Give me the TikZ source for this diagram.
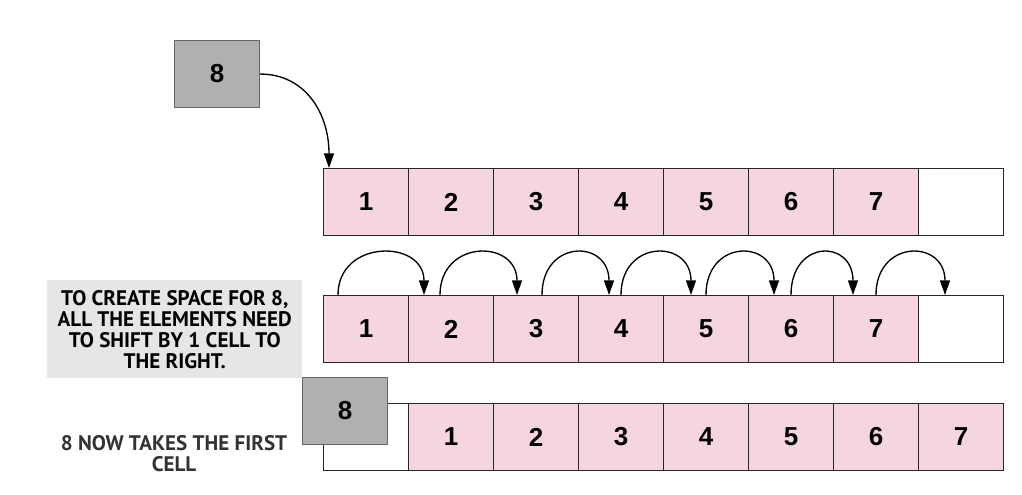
\documentclass[tikz,border=0pt]{standalone}
\usepackage{fontspec}
\setmainfont{Liberation Sans}
\newfontfamily\notefont{PT Sans}
\usetikzlibrary{arrows.meta,calc}
\definecolor{cellpink}{HTML}{F5D5E0}
\definecolor{boxgray}{HTML}{B0B0B0}
\definecolor{notegray}{HTML}{E6E6E6}
\tikzset{
  cell/.style={draw=black!85, line width=0.8pt, fill=cellpink, minimum width=63.75pt, minimum height=50.25pt, inner sep=0pt, anchor=north west, font=\fontsize{19.5}{19.5}\selectfont\bfseries},
  emptycell/.style={cell, fill=white},
  eightbox/.style={draw=black!60, line width=0.8pt, fill=boxgray, minimum width=63.75pt, minimum height=50.25pt, inner sep=0pt, anchor=north west, font=\fontsize{19.5}{19.5}\selectfont\bfseries},
  shiftarrow/.style={draw=black, line width=1pt, -{Triangle[length=11pt,width=7.5pt]}},
  notetext/.style={align=center, font=\notefont\bfseries\fontsize{15.8}{15.75}\selectfont}
}
\begin{document}
\begin{tikzpicture}[x=0.75pt,y=-0.75pt]
\useasboundingbox (0,0) rectangle (1022,494);
% top 8 box
\node[eightbox] (g1) at (174,40) {8};
% row 1
\foreach \i in {1,...,7} {
  \node[cell] (r1c\i) at ({323+85*(\i-1)},168) {\i};
}
\node[emptycell] (r1c8) at (918,168) {};
% row 2
\foreach \i in {1,...,7} {
  \node[cell] (r2c\i) at ({323+85*(\i-1)},295) {\i};
}
\node[emptycell] (r2c8) at (918,295) {};
% row 3
\node[emptycell] (r3c0) at (323,403) {};
\foreach \i in {1,...,7} {
  \node[cell] (r3c\i) at ({408+85*(\i-1)},403) {\i};
}
\node[eightbox] (g2) at (302,377) {8};
% note box
\node[fill=notegray, minimum width=191.25pt, minimum height=73.5pt, inner sep=0pt, anchor=north west] (note) at (47,280) {};
\node[notetext] (notetxt) at (note.center) {TO CREATE SPACE FOR 8,\\ALL THE ELEMENTS NEED\\TO SHIFT BY 1 CELL TO\\THE RIGHT.};
\node[notetext, text=black!80] (note2) at (174,454) {8 NOW TAKES THE FIRST\\CELL};
% arrow from 8 into first cell
\coordinate (t1) at ($(r1c1.north west)+(6,0)$);
\draw[shiftarrow] (g1.east) .. controls ($(g1.east)+(45,0)$) and ($(t1)+(0,-55)$) .. (t1);
% shift arcs
\foreach \a/\b/\s/\e in {1/2/15/16, 2/3/32/24, 3/4/49/31, 4/5/43/28, 5/6/43/26, 6/7/43/20, 7/8/43/27} {
  \coordinate (s\a) at ($(r2c\a.north west)+(\s,0)$);
  \coordinate (e\a) at ($(r2c\b.north west)+(\e,0)$);
  \draw[shiftarrow] (s\a) .. controls ($(s\a)+(0,-56)$) and ($(e\a)+(0,-56)$) .. (e\a);
}
\end{tikzpicture}
\end{document}
